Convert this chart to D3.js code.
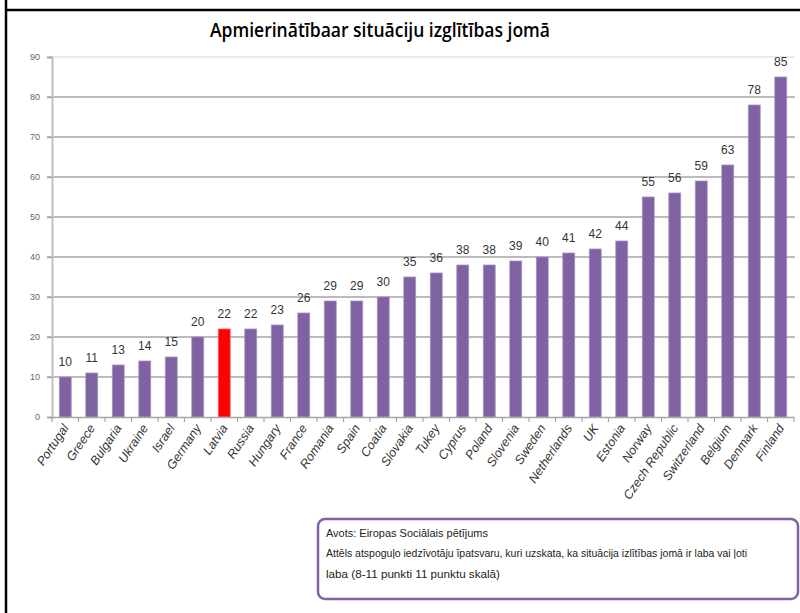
<!DOCTYPE html>
<html>
<head>
<meta charset="utf-8">
<script src="https://cdn.jsdelivr.net/npm/d3@7"></script>
<style>
  html, body { margin: 0; padding: 0; background: #fff; }
  svg { display: block; }
</style>
</head>
<body>
<svg id="chart" width="800" height="613"></svg>
<script>
const titleText = "Apmierinātībaar situāciju izglītības jomā";
const countries = ["Portugal","Greece","Bulgaria","Ukraine","Israel","Germany","Latvia","Russia","Hungary","France","Romania","Spain","Coatia","Slovakia","Tukey","Cyprus","Poland","Slovenia","Sweden","Netherlands","UK","Estonia","Norway","Czech Republic","Switzerland","Belgium","Denmark","Finland"];
const values = [10,11,13,14,15,20,22,22,23,26,29,29,30,35,36,38,38,39,40,41,42,44,55,56,59,63,78,85];
const highlight = ["Latvia"];
const yTicks = [0,10,20,30,40,50,60,70,80,90];
const sourceLines = [
  "Avots: Eiropas Sociālais pētījums",
  "Attēls atspoguļo iedzīvotāju īpatsvaru, kuri uzskata, ka situācija izlītības jomā ir laba vai ļoti",
  "laba (8-11 punkti 11 punktu skalā)"
];

const svg = d3.select("#chart");

// outer frame lines
svg.append("line").attr("x1", 6).attr("x2", 6).attr("y1", 0).attr("y2", 613)
  .attr("stroke", "#000").attr("stroke-width", 2.5);
svg.append("line").attr("x1", 6).attr("x2", 800).attr("y1", 10).attr("y2", 10)
  .attr("stroke", "#000").attr("stroke-width", 2.5);

// title
svg.append("text").attr("x", 380).attr("y", 37)
  .attr("text-anchor", "middle")
  .attr("font-family", "'Open Sans', 'Liberation Sans', sans-serif")
  .attr("font-size", 19).attr("font-weight", 600).attr("fill", "#000")
  .attr("textLength", 340).attr("lengthAdjust", "spacingAndGlyphs")
  .text(titleText);

const x = d3.scaleBand().domain(countries).range([52, 794])
  .paddingInner(0.55).paddingOuter(0.275);
const y = d3.scaleLinear().domain([0, 90]).range([417, 57]);

// gridlines
svg.append("g").selectAll("line").data(yTicks.filter(d => d > 0)).join("line")
  .attr("x1", 47).attr("x2", 795)
  .attr("y1", d => y(d)).attr("y2", d => y(d))
  .attr("stroke", d => d === 90 ? "#e4e4e4" : "#a6a6a6")
  .attr("stroke-width", 1.5);

// y axis
const yAxis = svg.append("g").attr("transform", "translate(52,0)")
  .call(d3.axisLeft(y).tickValues(yTicks).tickSize(5).tickPadding(7));
yAxis.select(".domain").attr("stroke", "#c0c0c0").attr("stroke-width", 2);
yAxis.selectAll(".tick line").attr("stroke", "#a6a6a6").attr("stroke-width", 1.5);
yAxis.selectAll(".tick text").attr("font-family", "'Liberation Sans', sans-serif")
  .attr("font-size", 9).attr("fill", "#666");

// bars
svg.append("g").selectAll("rect").data(countries).join("rect")
  .attr("x", d => x(d)).attr("width", x.bandwidth())
  .attr("y", (d, i) => y(values[i])).attr("height", (d, i) => y(0) - y(values[i]))
  .attr("fill", d => highlight.includes(d) ? "#ff0000" : "#7e62a1")
  .attr("stroke", d => highlight.includes(d) ? "#ff6060" : "#a792c2")
  .attr("stroke-width", 0.8);

// x axis
const xAxis = svg.append("g").attr("transform", "translate(0,417)")
  .call(d3.axisBottom(x).tickSize(0).tickFormat(""));
xAxis.select(".domain").attr("stroke", "#a6a6a6").attr("stroke-width", 1.5);
const step = x.step();
svg.append("g").selectAll("line").data(d3.range(countries.length + 1)).join("line")
  .attr("x1", i => 52 + i * step).attr("x2", i => 52 + i * step)
  .attr("y1", 417).attr("y2", 422)
  .attr("stroke", "#a6a6a6").attr("stroke-width", 1.2);

// x labels
svg.append("g").selectAll("text").data(countries).join("text")
  .attr("transform", d => `translate(${x(d) + x.bandwidth() / 2 + 4},${428}) rotate(-56)`)
  .attr("text-anchor", "end")
  .attr("font-family", "'Liberation Sans', sans-serif")
  .attr("font-style", "italic")
  .attr("font-size", 12.5)
  .attr("fill", "#333")
  .text(d => d);

// value labels
svg.append("g").selectAll("text").data(countries).join("text")
  .attr("x", d => x(d) + x.bandwidth() / 2)
  .attr("y", (d, i) => y(values[i]) - 11)
  .attr("text-anchor", "middle")
  .attr("font-family", "'Liberation Sans', sans-serif")
  .attr("font-size", 12).attr("fill", "#333")
  .text((d, i) => values[i]);

// source box
svg.append("rect").attr("x", 318).attr("y", 519).attr("width", 480).attr("height", 80)
  .attr("rx", 7).attr("ry", 7)
  .attr("fill", "#fff").attr("stroke", "#7e62a1").attr("stroke-width", 2.5);
const lineLens = [162, 421, 174];
svg.append("g").selectAll("text").data(sourceLines).join("text")
  .attr("x", 326).attr("y", (d, i) => [537, 557, 578][i])
  .attr("font-family", "'Liberation Sans', sans-serif")
  .attr("font-size", 11).attr("fill", "#222")
  .attr("textLength", (d, i) => lineLens[i]).attr("lengthAdjust", "spacingAndGlyphs")
  .text(d => d);
</script>
</body>
</html>
